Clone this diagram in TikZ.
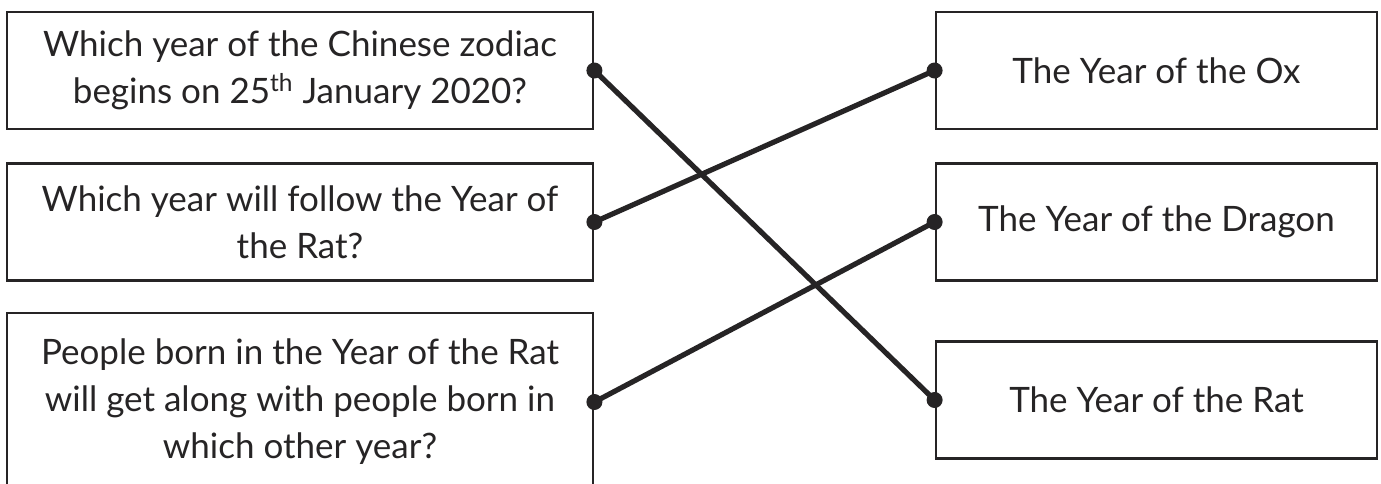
\documentclass[tikz,border=0pt]{standalone}
\usepackage{fontspec}
\setmainfont{Lato}
\usepackage{tikz}
\definecolor{ink}{RGB}{38,36,37}
\tikzset{
  card/.style={draw=ink, line width=1.4pt, align=center, inner sep=0pt,
    text=ink, font=\fontsize{17.5}{23.5}\selectfont},
  qcard/.style={card, minimum width=293pt, minimum height=58.5pt},
  acard/.style={card, minimum width=220.5pt, minimum height=58.5pt},
  link/.style={ink, line width=2.6pt},
  pin/.style={circle, fill=ink, inner sep=0pt, minimum size=8pt}
}
\begin{document}
\begin{tikzpicture}[x=0.5pt,y=-0.5pt]
\useasboundingbox (0,0) rectangle (1381,483);
\clip (0,0) rectangle (1381,483);
\fill[white] (0,0) rectangle (1381,483);
\node[qcard] (q1) at (300,70.5) {Which year of the Chinese zodiac\\begins on 25\textsuperscript{th} January 2020?};
\node[qcard] (q2) at (300,222) {Which year will follow the Year of\\the Rat?};
\node[qcard, minimum height=89pt] (q3) at (300,402) {People born in the Year of the Rat\\will get along with people born in\\which other year?};
\node[acard] (ox) at (1156.5,70.5) {The Year of the Ox};
\node[acard] (dragon) at (1156.5,222) {The Year of the Dragon};
\node[acard] (rat) at (1156.5,400) {The Year of the Rat};
\draw[link] (q1.east)--(rat.west);
\draw[link] (q2.east)--(ox.west);
\draw[link] (q3.east)--(dragon.west);
\foreach \n in {q1,q2,q3}
  \node[pin] at (\n.east) {};
\foreach \n in {ox,dragon,rat}
  \node[pin] at (\n.west) {};
\end{tikzpicture}
\end{document}
